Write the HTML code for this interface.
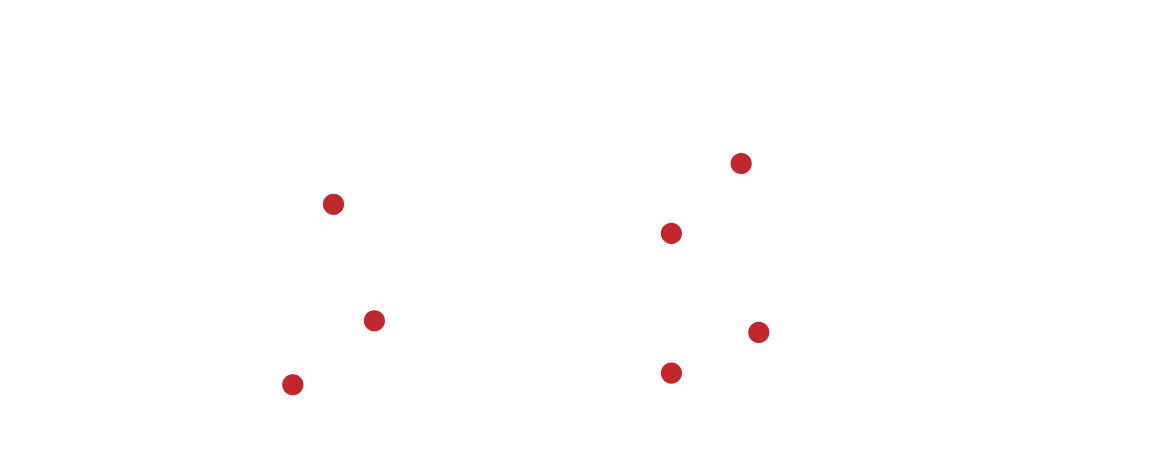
<!DOCTYPE html>
<html>
<head>
<meta charset="utf-8">
<style>
html,body{margin:0;padding:0;background:#fff;width:1155px;height:460px;overflow:hidden}
svg{display:block}
</style>
</head>
<body>
<svg width="1155" height="460" viewBox="0 0 1155 460" xmlns="http://www.w3.org/2000/svg">
<rect width="1155" height="460" fill="#ffffff"/>
<g fill="#c1272d">
<circle cx="333.5" cy="204.3" r="10.6"/>
<circle cx="374.4" cy="320.8" r="10.6"/>
<circle cx="292.8" cy="384.7" r="10.6"/>
<circle cx="741.2" cy="163.5" r="10.6"/>
<circle cx="671.4" cy="233.4" r="10.6"/>
<circle cx="758.8" cy="332.4" r="10.6"/>
<circle cx="671.4" cy="373.1" r="10.6"/>
</g>
</svg>
</body>
</html>
